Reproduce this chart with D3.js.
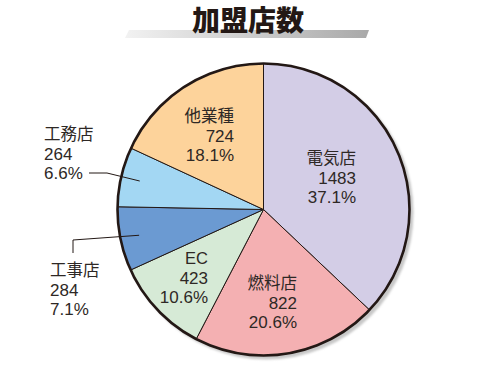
<!DOCTYPE html>
<html>
<head>
<meta charset="utf-8">
<script src="https://cdn.jsdelivr.net/npm/d3@7"></script>
<style>
  html, body { margin: 0; padding: 0; background: #fff; }
  svg { display: block; font-family: "Noto Sans CJK JP", "Noto Sans", sans-serif; }
</style>
</head>
<body>
<div id="chart"></div>
<script>
const title = '加盟店数';
const categories = ['電気店', '燃料店', 'EC', '工事店', '工務店', '他業種'];
const values = [1483, 822, 423, 284, 264, 724];
const percents = ['37.1%', '20.6%', '10.6%', '7.1%', '6.6%', '18.1%'];

const colors = ['#d3cde6', '#f4b0b2', '#d6ead6', '#6b9ad2', '#a3d7f3', '#fdd39b'];

// where each label block sits (right edge / left edge, first baseline)
const labelLayout = [
  { x: 356, y: 164, anchor: 'end' },
  { x: 297, y: 289, anchor: 'end' },
  { x: 208, y: 264, anchor: 'end' },
  { x: 50, y: 276, anchor: 'start', leader: 'down' },
  { x: 44, y: 140, anchor: 'start', leader: 'side' },
  { x: 234, y: 122, anchor: 'end' },
];

const width = 500;
const height = 375;
const cx = 263.5;
const cy = 209.5;
const radius = 146;
const lineGap = 19.5;
const ink = '#231815';

const svg = d3.select('#chart')
  .append('svg')
    .attr('width', width)
    .attr('height', height);

const defs = svg.append('defs');

const grad = defs.append('linearGradient')
  .attr('id', 'titlebar')
  .attr('x1', '0%').attr('x2', '100%')
  .attr('y1', '0%').attr('y2', '0%');
grad.append('stop').attr('offset', '0%').attr('stop-color', '#f2f2f2');
grad.append('stop').attr('offset', '100%').attr('stop-color', '#a9a9a9');

defs.append('filter')
  .attr('id', 'blur')
  .append('feGaussianBlur')
    .attr('stdDeviation', 1.2);

// title with its grey bar
svg.append('path')
  .attr('d', 'M129,30 L369,30 L366,38 L125,38 Z')
  .attr('fill', 'url(#titlebar)');

svg.append('text')
  .attr('x', 248)
  .attr('y', 31)
  .attr('text-anchor', 'middle')
  .style('font-size', '28px')
  .style('font-weight', 900)
  .attr('fill', ink)
  .text(title);

// pie
const pie = d3.pie().sort(null).value(d => d);
const arcs = pie(values);
const arc = d3.arc().innerRadius(0).outerRadius(radius);
const leaderArc = d3.arc().innerRadius(127).outerRadius(127);

const chart = svg.append('g')
  .attr('transform', `translate(${cx}, ${cy})`);

chart.append('circle')
  .attr('cx', 3)
  .attr('cy', 3)
  .attr('r', radius + 1)
  .attr('fill', '#c8c8c8')
  .attr('filter', 'url(#blur)');

chart.selectAll('.slice')
  .data(arcs)
  .enter()
  .append('path')
    .attr('class', 'slice')
    .attr('d', arc)
    .attr('fill', (d, i) => colors[i])
    .attr('stroke', ink)
    .attr('stroke-width', 1);

chart.append('circle')
  .attr('r', radius)
  .attr('fill', 'none')
  .attr('stroke', ink)
  .attr('stroke-width', 2.6);

// leader lines for the two small slices
arcs.forEach((d, i) => {
  const lay = labelLayout[i];
  if (!lay.leader) return;
  const [ex, ey] = leaderArc.centroid(d);
  let pts;
  if (lay.leader === 'side') {
    pts = [[89, lay.y + 2 * lineGap - 6], [107, lay.y + 2 * lineGap - 6], [cx + ex, cy + ey]];
  } else {
    pts = [[73, lay.y - 23], [73, lay.y - 36], [cx + ex, cy + ey]];
  }
  svg.append('path')
    .attr('d', d3.line()(pts))
    .attr('fill', 'none')
    .attr('stroke', ink)
    .attr('stroke-width', 1);
});

// labels: name, count, share on three lines
const labels = svg.append('g')
  .attr('fill', '#2e2825');

categories.forEach((name, i) => {
  const lay = labelLayout[i];
  [name, values[i], percents[i]].forEach((line, j) => {
    labels.append('text')
      .attr('x', lay.x)
      .attr('y', lay.y + j * lineGap)
      .attr('text-anchor', lay.anchor)
      .style('font-family', '"Liberation Sans", "Noto Sans CJK JP", sans-serif')
      .style('font-size', j === 0 ? '16.5px' : '17px')
      .text(line);
  });
});
</script>
</body>
</html>
